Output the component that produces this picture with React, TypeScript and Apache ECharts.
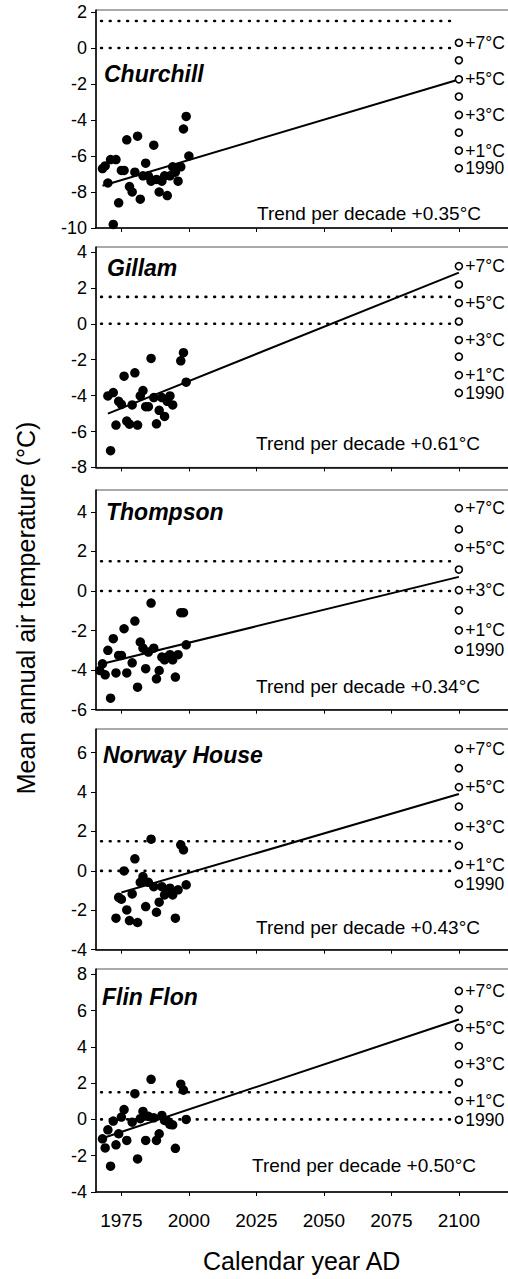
import React, { useEffect, useRef } from "react";
import * as echarts from "echarts";

const FONT = "'Liberation Sans', Arial, Helvetica, sans-serif";

// ---- data ----
const stationNames = ["Churchill", "Gillam", "Thompson", "Norway House", "Flin Flon"];
const trendLabels = [
  "Trend per decade +0.35°C",
  "Trend per decade +0.61°C",
  "Trend per decade +0.34°C",
  "Trend per decade +0.43°C",
  "Trend per decade +0.50°C",
];
const xTickValues = [1975, 2000, 2025, 2050, 2075, 2100];
const scenarioLabels = ["1990", "+1°C", "", "+3°C", "", "+5°C", "", "+7°C"];
const scenarioYear = 2100;
const thresholdValues = [0, 1.5];
const thresholdSpan = [1967.5, 2098.5];

const churchillYears = [1968, 1969, 1970, 1971, 1972, 1973, 1974, 1975, 1976, 1977, 1978, 1979, 1980, 1981, 1982, 1983, 1984, 1985, 1986, 1987, 1988, 1989, 1990, 1991, 1992, 1993, 1994, 1995, 1996, 1997, 1998, 1999, 2000];
const churchillTemps = [-6.7, -6.55, -7.5, -6.2, -9.8, -6.2, -8.6, -6.8, -6.8, -5.1, -7.7, -8.0, -6.9, -4.9, -8.4, -7.1, -6.4, -7.1, -7.4, -5.4, -7.3, -8.0, -7.4, -7.1, -8.2, -7.1, -6.6, -6.9, -7.4, -6.6, -4.5, -3.8, -6.0];
const churchillTrend = [[1968, -7.65], [2100, -1.75]];
const churchillScenarios = [-6.68, -5.7, -4.7, -3.72, -2.7, -1.74, -0.68, 0.29];

const gillamYears = [1970, 1971, 1972, 1973, 1974, 1975, 1976, 1977, 1978, 1979, 1980, 1981, 1982, 1983, 1984, 1985, 1986, 1987, 1988, 1989, 1990, 1991, 1992, 1993, 1994, 1997, 1998, 1999];
const gillamTemps = [-4.02, -7.07, -3.83, -5.64, -4.32, -4.49, -2.92, -5.42, -5.59, -4.52, -2.73, -5.64, -4.02, -3.72, -4.62, -4.62, -1.93, -4.11, -5.57, -4.82, -4.11, -5.16, -4.32, -4.02, -4.52, -2.06, -1.61, -3.25];
const gillamTrend = [[1970, -5.0], [2100, 2.85]];
const gillamScenarios = [-3.85, -2.86, -1.83, -0.9, 0.13, 1.16, 2.19, 3.21];

const thompsonYears = [1967, 1968, 1969, 1970, 1971, 1972, 1973, 1974, 1975, 1976, 1977, 1979, 1980, 1981, 1982, 1983, 1984, 1985, 1986, 1987, 1988, 1989, 1990, 1991, 1992, 1993, 1994, 1995, 1996, 1997, 1998, 1999];
const thompsonTemps = [-4.02, -3.68, -4.24, -3.0, -5.42, -2.41, -4.14, -3.26, -3.26, -1.91, -4.14, -3.63, -1.52, -4.86, -2.58, -2.89, -3.93, -3.09, -0.61, -2.89, -4.44, -4.02, -3.34, -3.48, -3.34, -3.22, -3.48, -4.35, -3.22, -1.1, -1.1, -2.72];
const thompsonTrend = [[1968, -3.68], [2100, 0.71]];
const thompsonScenarios = [-2.97, -1.99, -0.98, 0.04, 1.08, 2.18, 3.11, 4.18];

const norwayYears = [1973, 1974, 1975, 1976, 1977, 1978, 1979, 1980, 1981, 1982, 1983, 1984, 1985, 1986, 1987, 1988, 1989, 1990, 1991, 1992, 1993, 1994, 1995, 1996, 1997, 1998, 1999];
const norwayTemps = [-2.4, -1.34, -1.44, 0.0, -1.98, -2.52, -1.17, 0.61, -2.62, -0.58, -0.29, -1.81, -0.58, 1.61, -0.8, -2.1, -1.59, -0.8, -1.22, -1.05, -0.88, -1.22, -2.4, -0.96, 1.32, 1.07, -0.71];
const norwayTrend = [[1975, -1.1], [2100, 3.9]];
const norwayScenarios = [-0.66, 0.3, 1.27, 2.25, 3.26, 4.25, 5.21, 6.19];

const flinYears = [1968, 1969, 1970, 1971, 1972, 1973, 1974, 1975, 1976, 1977, 1979, 1980, 1981, 1982, 1983, 1984, 1985, 1986, 1987, 1988, 1989, 1990, 1991, 1992, 1993, 1994, 1995, 1997, 1998, 1999];
const flinTemps = [-1.07, -1.57, -0.57, -2.58, -0.09, -1.4, -0.79, 0.13, 0.54, -1.16, -0.15, 1.42, -2.18, 0.04, 0.44, -1.16, 0.17, 2.21, 0.09, -1.16, -0.79, 0.22, -0.06, -0.09, -0.28, -0.3, -1.59, 1.94, 1.61, 0.0];
const flinTrend = [[1968.5, -1.01], [2100, 5.51]];
const flinScenarios = [-0.02, 1.01, 2.03, 3.04, 4.04, 5.05, 6.07, 7.08];

const yTicks = [
  [-10, -8, -6, -4, -2, 0, 2],
  [-8, -6, -4, -2, 0, 2, 4],
  [-6, -4, -2, 0, 2, 4],
  [-4, -2, 0, 2, 4, 6],
  [-4, -2, 0, 2, 4, 6, 8],
];
const yMins = [-10, -8, -6, -4, -4];
const yMaxs = [2.11, 4.28, 5.1, 7.2, 8.29];

const stations = [
  { years: churchillYears, temps: churchillTemps, trend: churchillTrend, scen: churchillScenarios },
  { years: gillamYears, temps: gillamTemps, trend: gillamTrend, scen: gillamScenarios },
  { years: thompsonYears, temps: thompsonTemps, trend: thompsonTrend, scen: thompsonScenarios },
  { years: norwayYears, temps: norwayTemps, trend: norwayTrend, scen: norwayScenarios },
  { years: flinYears, temps: flinTemps, trend: flinTrend, scen: flinScenarios },
];

// ---- layout ----
const GRID_LEFT = 96;
const X_MIN = 1965.6;
const X_MAX = 2125;
const PX_PER_YEAR = 2.7;
const gridTops = [10, 247, 490, 729, 969];
const gridHeights = [218, 220.4, 219.7, 220.7, 223];
const nameX = [104, 107, 106, 103, 102];
const nameY = [74, 268, 512, 754.5, 997];
const trendX = [257, 256, 256, 256, 252];
const trendY = [213, 443.3, 686.7, 927.3, 1165];

export default function App() {
  const ref = useRef<HTMLDivElement>(null);
  useEffect(() => {
    if (!ref.current) return;
    const chart = echarts.init(ref.current, undefined, { renderer: "svg" });
    const n = stations.length;
    const grids: any[] = [];
    const xAxes: any[] = [];
    const yAxes: any[] = [];
    const series: any[] = [];
    for (let i = 0; i < n; i++) {
      grids.push({
        left: GRID_LEFT,
        top: gridTops[i],
        height: gridHeights[i],
        width: (X_MAX - X_MIN) * PX_PER_YEAR,
        containLabel: false,
        outerBoundsMode: "none",
        show: true,
        borderColor: "#555",
        borderWidth: 1,
      });
      xAxes.push({
        type: "value",
        gridIndex: i,
        min: X_MIN,
        max: X_MAX,
        axisLine: { show: true, onZero: false, lineStyle: { color: "#000", width: 1.5 } },
        axisTick: { show: true, customValues: xTickValues, length: 4, lineStyle: { color: "#000", width: 1 } },
        axisLabel: {
          show: i === n - 1,
          customValues: xTickValues,
          formatter: (v: number) => String(v),
          fontSize: 19,
          color: "#000",
          fontFamily: FONT,
          margin: 19,
        },
        splitLine: { show: false },
      });
      yAxes.push({
        type: "value",
        gridIndex: i,
        min: yMins[i],
        max: yMaxs[i],
        axisLine: { show: true, onZero: false, lineStyle: { color: "#000", width: 1.5 } },
        axisTick: { show: true, customValues: yTicks[i], length: 5, lineStyle: { color: "#000", width: 1 } },
        axisLabel: {
          customValues: yTicks[i],
          formatter: (v: number) => String(v),
          fontSize: 18,
          color: "#000",
          fontFamily: FONT,
          margin: 9,
        },
        splitLine: { show: false },
      });
      const st = stations[i];
      thresholdValues.forEach((v) => {
        series.push({
          type: "line",
          xAxisIndex: i,
          yAxisIndex: i,
          data: [[thresholdSpan[0], v], [thresholdSpan[1], v]],
          symbol: "none",
          lineStyle: { color: "#000", width: 2.6, type: [0.8, 7.9], cap: "round" },
          z: 2,
        });
      });
      series.push({
        type: "line",
        xAxisIndex: i,
        yAxisIndex: i,
        data: st.trend,
        symbol: "none",
        lineStyle: { color: "#000", width: 2 },
        z: 3,
      });
      series.push({
        type: "scatter",
        xAxisIndex: i,
        yAxisIndex: i,
        data: st.years.map((y, k) => [y, st.temps[k]]),
        symbol: "circle",
        symbolSize: 9.5,
        itemStyle: { color: "#000", opacity: 1 },
        z: 4,
      });
      series.push({
        type: "scatter",
        xAxisIndex: i,
        yAxisIndex: i,
        data: st.scen.map((v) => [scenarioYear, v]),
        symbol: "circle",
        symbolSize: 7,
        itemStyle: { color: "#fff", borderColor: "#000", borderWidth: 1.6, opacity: 1 },
        label: {
          show: true,
          position: "right",
          distance: 2,
          fontSize: 17.5,
          lineHeight: 15,
          color: "#000",
          fontFamily: FONT,
          formatter: (p: any) => scenarioLabels[p.dataIndex],
        },
        z: 5,
      });
    }
    const graphic: any[] = [];
    for (let i = 0; i < n; i++) {
      graphic.push({
        type: "text",
        x: nameX[i],
        y: nameY[i],
        style: {
          text: stationNames[i],
          font: `italic bold 23px ${FONT}`,
          fill: "#000",
          textAlign: "left",
          textVerticalAlign: "middle",
        },
        z: 10,
      });
      graphic.push({
        type: "text",
        x: trendX[i],
        y: trendY[i],
        style: {
          text: trendLabels[i],
          font: `19px ${FONT}`,
          fill: "#000",
          textAlign: "left",
          textVerticalAlign: "middle",
        },
        z: 10,
      });
    }
    graphic.push({
      type: "text",
      x: 301.7,
      y: 1261,
      style: {
        text: "Calendar year AD",
        font: `25px ${FONT}`,
        fill: "#000",
        textAlign: "center",
        textVerticalAlign: "middle",
      },
    });
    graphic.push({
      type: "text",
      x: 26,
      y: 608,
      rotation: Math.PI / 2,
      style: {
        text: "Mean annual air temperature (°C)",
        font: `25px ${FONT}`,
        fill: "#000",
        textAlign: "center",
        textVerticalAlign: "middle",
      },
    });
    chart.setOption({
      animation: false,
      backgroundColor: "#fff",
      textStyle: { fontFamily: FONT },
      grid: grids,
      xAxis: xAxes,
      yAxis: yAxes,
      series,
      graphic,
    });
    return () => chart.dispose();
  }, []);
  return (
    <div
      ref={ref}
      style={{ position: "absolute", left: 0, top: 0, width: 508, height: 1279 }}
    />
  );
}
